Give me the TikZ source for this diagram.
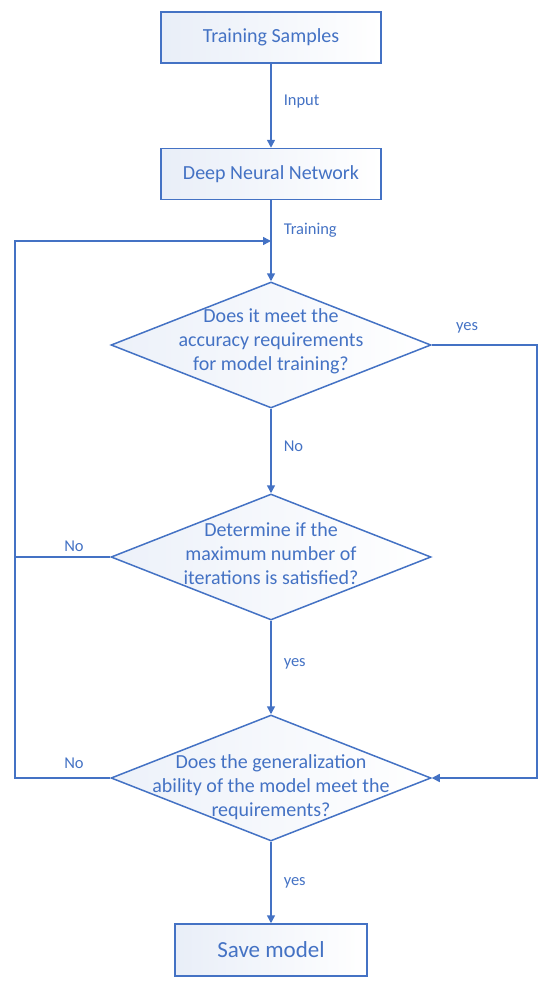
\documentclass[tikz,border=0pt]{standalone}
\usepackage{fontspec}
\setmainfont{Carlito}
\usepackage{tikz}
\usetikzlibrary{shapes.geometric, arrows.meta, positioning, calc}
\definecolor{flowblue}{HTML}{4472C4}
\tikzset{
  % Process boxes
  procbox/.style={
    rectangle, minimum width=220pt, minimum height=51pt,
    draw=flowblue, left color=flowblue!12, right color=white,
    text=flowblue, font=\fontsize{20}{24}\selectfont,
    align=center, line width=1.5pt,
  },
  % Decision diamonds (text is set on top)
  decision/.style={
    diamond, minimum width=320pt, minimum height=126pt, inner sep=0pt,
    draw=flowblue, left color=flowblue!10, right color=white,
    line width=1.5pt,
  },
  decisiontext/.style={
    text=flowblue, font=\fontsize{20}{24}\selectfont, align=center,
    inner sep=0pt,
  },
  % Connectors
  flowline/.style={draw=flowblue, line width=1.5pt},
  flowarrow/.style={flowline, -{Triangle[length=8pt, width=8pt]}},
  % Labels on connectors
  edgelabel/.style={text=flowblue, font=\fontsize{16.5}{19}\selectfont, inner sep=0pt},
}
\begin{document}
\begin{tikzpicture}[x=1pt, y=-1pt]
  \useasboundingbox (0,0) rectangle (550,985);

  % Boxes
  \node[procbox] (samples) at (271,37.5) {Training Samples};
  \node[procbox] (dnn) at (271,174) {Deep Neural Network};
  \node[procbox, minimum width=192pt, minimum height=52pt,
        font=\fontsize{23}{27}\selectfont] (save) at (271,950) {Save model};

  % Decisions
  \node[decision] (acc) at (271,345) {};
  \node[decisiontext] (acctext) at (271,341) {Does it meet the\\accuracy requirements\\for model training?};
  \node[decision] (iter) at (271,557) {};
  \node[decisiontext] (itertext) at (271,554) {Determine if the\\maximum number of\\iterations is satisfied?};
  \node[decision] (gen) at (271,778) {};
  \node[decisiontext] (gentext) at (271,787) {Does the generalization\\ability of the model meet the\\requirements?};

  % Helper points
  \coordinate (merge) at (271,241);
  \coordinate (loopx) at (15,241);
  \coordinate (rightx) at (537,345);

  % Main flow
  \draw[flowarrow] (samples) -- (dnn)
    node[edgelabel, pos=0.45, anchor=west, xshift=12pt] {Input};
  \draw[flowline] (dnn) -- (merge)
    node[edgelabel, anchor=west, xshift=12pt, yshift=11pt] {Training};
  \draw[flowarrow] (merge) -- (acc.north);
  \draw[flowarrow] (acc) -- (iter)
    node[edgelabel, midway, anchor=west, xshift=12pt, yshift=5pt] {No};
  \draw[flowarrow] (iter) -- (gen)
    node[edgelabel, midway, anchor=west, xshift=12pt, yshift=4pt] {yes};
  \draw[flowarrow] (gen) -- (save)
    node[edgelabel, midway, anchor=west, xshift=12pt] {yes};

  % Loops back and bypass
  \draw[flowarrow] (gen.west) -| (loopx) -- (merge);
  \draw[flowline] (iter.west) -- (iter.west -| loopx);
  \draw[flowarrow] (acc.east) -- (rightx) |- (gen.east);

  % Side labels
  \node[edgelabel] (accyes) at (467,328) {yes};
  \node[edgelabel] (iterno) at (74,546) {No};
  \node[edgelabel] (genno) at (74,763) {No};
\end{tikzpicture}
\end{document}
